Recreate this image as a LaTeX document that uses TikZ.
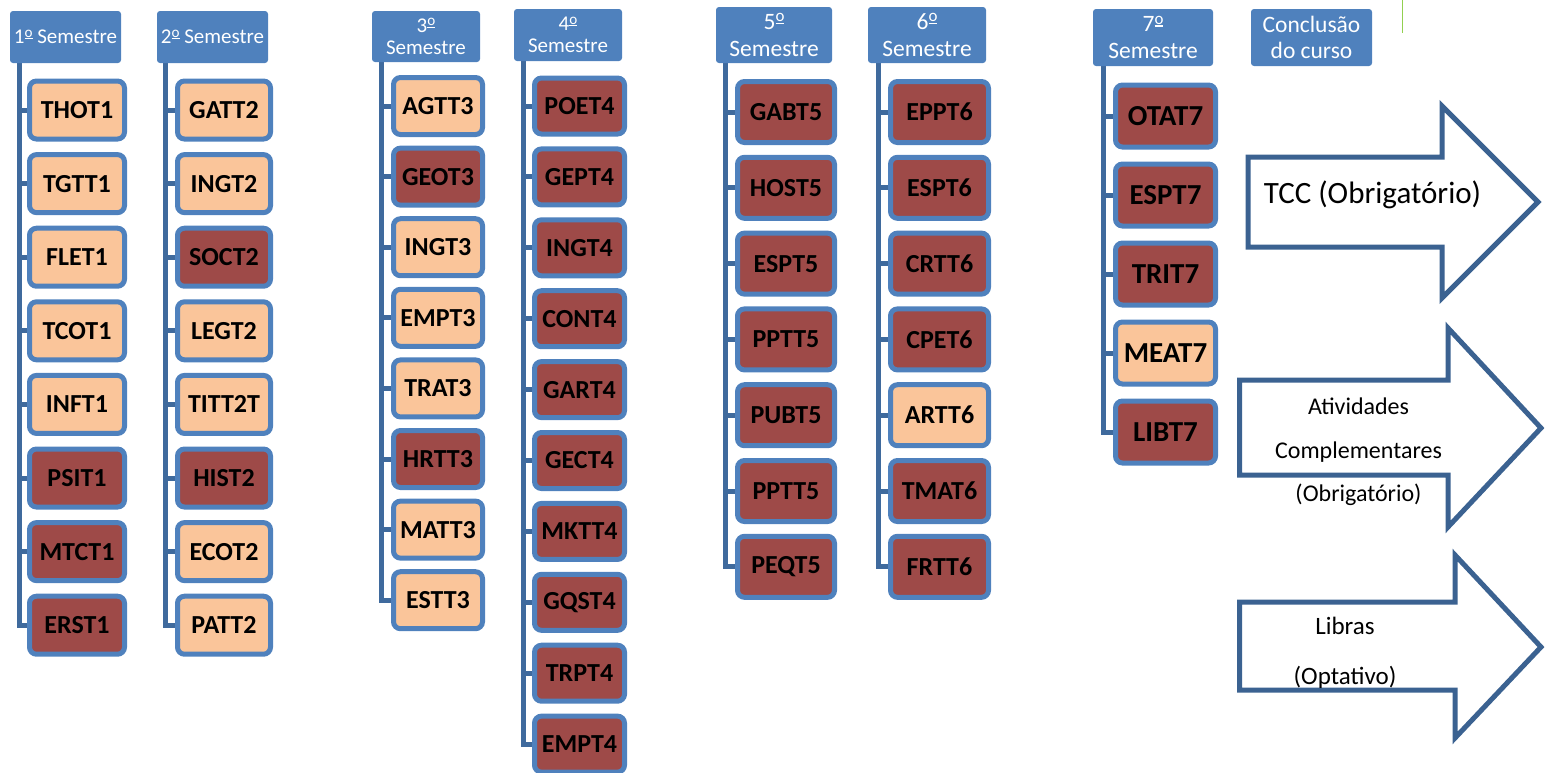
\documentclass[tikz,border=0pt]{standalone}
\usepackage{fontspec}
\setmainfont{Carlito}
\usetikzlibrary{backgrounds}
\definecolor{hdrblue}{HTML}{4F81BD}
\definecolor{barblue}{HTML}{3F6A9D}
\definecolor{peach}{HTML}{FAC59A}
\definecolor{brick}{HTML}{9E4A48}
\definecolor{arrowblue}{HTML}{3B6291}
\definecolor{leafgreen}{HTML}{92D050}
% ordinal mark: small raised o with a bar beneath
\newcommand\ordmark{\raisebox{0.22em}{\scalebox{0.72}{\vbox{\hbox{o}\kern0.06em\hrule height 0.07em}}}}
\tikzset{
  header/.style={fill=hdrblue, rounded corners=3pt, text=white, align=center, inner sep=0pt},
  course/.style={draw=hdrblue, line width=5pt, rounded corners=7pt, inner sep=0pt, text=black,
                 font=\bfseries\fontsize{26}{26}\selectfont},
  L/.style={fill=peach},
  D/.style={fill=brick},
  spine/.style={draw=barblue, line width=5pt},
  goal/.style={draw=arrowblue, line width=5pt, fill=white, line join=miter},
  goaltext/.style={inner sep=0pt, text=black, align=center}
}
\begin{document}
\begin{tikzpicture}[x=1pt,y=-1pt]
\useasboundingbox (0,0) rectangle (1546,772);

% semester headers
\node[header, minimum width=111, minimum height=52, font=\fontsize{21}{22}\selectfont] (h1) at (65.5,37) {1\ordmark{} Semestre};
\node[header, minimum width=111, minimum height=52, font=\fontsize{21}{22}\selectfont] (h2) at (212.5,37) {2\ordmark{} Semestre};
\node[header, minimum width=108, minimum height=51, font=\fontsize{21}{22}\selectfont] (h3) at (426,36.5) {3\ordmark\\Semestre};
\node[header, minimum width=108, minimum height=52, font=\fontsize{21}{22}\selectfont] (h4) at (568,35) {4\ordmark\\Semestre};
\node[header, minimum width=116, minimum height=56, font=\fontsize{23.5}{27}\selectfont] (h5) at (774,35) {5\ordmark\\Semestre};
\node[header, minimum width=118, minimum height=56, font=\fontsize{23.5}{27}\selectfont] (h6) at (927,35) {6\ordmark\\Semestre};
\node[header, minimum width=120, minimum height=57, font=\fontsize{23.5}{27}\selectfont] (h7) at (1153,37.5) {7\ordmark\\Semestre};
\node[header, minimum width=121, minimum height=57, font=\fontsize{23.5}{26}\selectfont] (hc) at (1311.5,37.5) {Conclusão\\do curso};

% tops of the vertical spines
\coordinate (s1) at (19,63);
\coordinate (s2) at (165.5,63);
\coordinate (s3) at (381,62);
\coordinate (s4) at (523.5,61);
\coordinate (s5) at (725,63);
\coordinate (s6) at (878,63);
\coordinate (s7) at (1103.5,66);

% 1st semester
\foreach \lab/\st [count=\i] in {THOT1/L,TGTT1/L,FLET1/L,TCOT1/L,INFT1/L,PSIT1/D,MTCT1/D,ERST1/D}
  \node[course,\st, minimum width=95, minimum height=58] (c1-\i) at (77,{110+(\i-1)*73.6}) {\lab};
% 2nd semester
\foreach \lab/\st [count=\i] in {GATT2/L,INGT2/L,SOCT2/D,LEGT2/L,TITT2T/L,HIST2/D,ECOT2/L,PATT2/L}
  \node[course,\st, minimum width=93, minimum height=58] (c2-\i) at (224,{110+(\i-1)*73.6}) {\lab};
% 3rd semester
\foreach \lab/\st [count=\i] in {AGTT3/L,GEOT3/D,INGT3/L,EMPT3/L,TRAT3/L,HRTT3/D,MATT3/L,ESTT3/L}
  \node[course,\st, minimum width=89, minimum height=57] (c3-\i) at (438,{106+(\i-1)*70.6}) {\lab};
% 4th semester
\foreach \lab/\st [count=\i] in {POET4/D,GEPT4/D,INGT4/D,CONT4/D,GART4/D,GECT4/D,MKTT4/D,GQST4/D,TRPT4/D,EMPT4/D}
  \node[course,\st, minimum width=90, minimum height=56] (c4-\i) at (579.5,{106+(\i-1)*70.9}) {\lab};
% 5th semester
\foreach \lab/\st [count=\i] in {GABT5/D,HOST5/D,ESPT5/D,PPTT5/D,PUBT5/D,PPTT5/D,PEQT5/D}
  \node[course,\st, minimum width=97, minimum height=61] (c5-\i) at (786,{112+(\i-1)*75.8}) {\lab};
% 6th semester
\foreach \lab/\st [count=\i] in {EPPT6/D,ESPT6/D,CRTT6/D,CPET6/D,ARTT6/L,TMAT6/D,FRTT6/D}
  \node[course,\st, minimum width=98, minimum height=61] (c6-\i) at (939.5,{112+(\i-1)*75.8}) {\lab};
% 7th semester
\foreach \lab/\st [count=\i] in {OTAT7/D,ESPT7/D,TRIT7/D,MEAT7/L,LIBT7/D}
  \node[course,\st, minimum width=100, minimum height=62, font=\bfseries\fontsize{29}{29}\selectfont] (c7-\i) at (1165.5,{116+(\i-1)*79}) {\lab};

% spines and branches, behind the course boxes
\begin{pgfonlayer}{background}
  \foreach \c/\n in {1/8,2/8,3/8,4/10,5/7,6/7,7/5} {
    \draw[spine] (s\c) |- (c\c-\n.west);
    \foreach \i in {1,...,\n}
      \draw[spine] (c\c-\i.west -| s\c) -- (c\c-\i.west);
  }
\end{pgfonlayer}

% course completion arrows
\draw[goal] (1248,157) -- (1442,157) -- (1442,106) -- (1538,202) -- (1442,298) -- (1442,247) -- (1248,247) -- cycle;
\draw[goal] (1239.5,380) -- (1448,380) -- (1448,328) -- (1541,428) -- (1448,527) -- (1448,475) -- (1239.5,475) -- cycle;
\draw[goal] (1239.5,602) -- (1455,602) -- (1455,555) -- (1541,647) -- (1455,738) -- (1455,690) -- (1239.5,690) -- cycle;

\node[goaltext, font=\fontsize{31}{31}\selectfont] (tcc) at (1372.5,195) {TCC (Obrigatório)};
\node[goaltext, font=\fontsize{24}{43.5}\selectfont] (ativ) at (1358.5,452) {Atividades\\Complementares\\(Obrigatório)};
\node[goaltext, font=\fontsize{25}{50}\selectfont] (libras) at (1345,653) {Libras\\(Optativo)};

% thin green rule at the top
\coordinate (g1) at (1402,0);
\coordinate (g2) at (1402,33);
\draw[leafgreen, line width=1pt] (g1) -- (g2);
\end{tikzpicture}
\end{document}
